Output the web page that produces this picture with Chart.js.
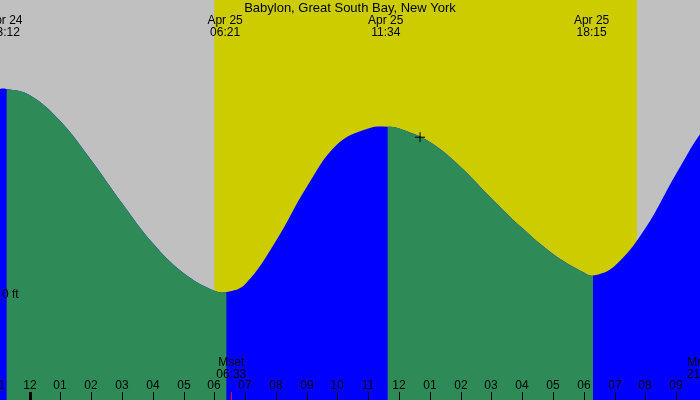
<!DOCTYPE html>
<html>
<head>
<meta charset="utf-8">
<script src="https://cdn.jsdelivr.net/npm/chart.js@4.4.1/dist/chart.umd.min.js"></script>
<style>
  html, body { margin: 0; padding: 0; background: #c0c0c0; }
  #wrap { width: 700px; height: 400px; }
</style>
</head>
<body>
<div id="wrap"><canvas id="tideChart"></canvas></div>
<script>
const title = 'Babylon, Great South Bay, New York';

// hours from midnight Apr 25, tide height in ft
const hours = [-2, -1, -0.75, 0, 1, 2, 3, 4, 5, 6, 6.4, 7, 8, 9, 10, 11, 11.62, 12, 13, 14, 15, 16, 17, 18, 18.3, 19, 20, 21, 22, 23];
const heights = [0.63, 0.685, 0.687, 0.667, 0.58, 0.45, 0.307, 0.173, 0.073, 0.014, 0.01, 0.036, 0.18, 0.36, 0.503, 0.555, 0.561, 0.555, 0.51, 0.427, 0.322, 0.223, 0.137, 0.075, 0.065, 0.097, 0.223, 0.405, 0.567, 0.66];

// high / low tides
const extremeHours = [-0.8, 6.35, 11.567, 18.25];
const extremeDates = ['Apr 24', 'Apr 25', 'Apr 25', 'Apr 25'];
const extremeTimes = ['23:12', '06:21', '11:34', '18:15'];

// sunrise, sunset
const sunHours = [6.0, 19.72];

// moon
const moonHours = [6.55, 21.83];
const moonLabels = ['Mset', 'Mrise'];
const moonTimes = ['06:33', '21:50'];

// now marker
const nowHour = [12.68];
const nowHeight = [0.526];

const tickHours = [-1, 0, 1, 2, 3, 4, 5, 6, 7, 8, 9, 10, 11, 12, 13, 14, 15, 16, 17, 18, 19, 20, 21];
const tickLabels = ['11', '12', '01', '02', '03', '04', '05', '06', '07', '08', '09', '10', '11',
                    '12', '01', '02', '03', '04', '05', '06', '07', '08', '09'];

const GREEN = '#2e8b57';
const BLUE = '#0000ff';
const DAY = '#cccc00';
const NIGHT = '#c0c0c0';
const FONT = '"Liberation Sans", Arial, sans-serif';

const tidePoints = hours.map((h, i) => ({ x: h, y: heights[i] }));

const skyPlugin = {
  id: 'sky',
  beforeDatasetsDraw(chart) {
    const { ctx, chartArea: a, scales: { x } } = chart;
    ctx.save();
    ctx.fillStyle = NIGHT;
    ctx.fillRect(a.left, a.top, a.right - a.left, a.bottom - a.top);
    const x0 = x.getPixelForValue(sunHours[0]);
    const x1 = x.getPixelForValue(sunHours[1]);
    ctx.fillStyle = DAY;
    ctx.fillRect(x0, a.top, x1 - x0, a.bottom - a.top);
    ctx.restore();
  }
};

const labelPlugin = {
  id: 'labels',
  afterDraw(chart) {
    const { ctx, chartArea: a, scales: { x, y } } = chart;
    ctx.save();
    ctx.fillStyle = '#000';
    ctx.textAlign = 'center';
    ctx.textBaseline = 'alphabetic';

    ctx.font = '13px ' + FONT;
    ctx.fillText(title, (a.left + a.right) / 2, 12);

    ctx.font = '12px ' + FONT;
    extremeHours.forEach((h, i) => {
      const px = x.getPixelForValue(h);
      ctx.fillText(extremeDates[i], px, 24);
      ctx.fillText(extremeTimes[i], px, 36);
    });

    // hour ticks along the bottom
    tickHours.forEach((h, i) => {
      const px = Math.round(x.getPixelForValue(h));
      ctx.fillText(tickLabels[i], px, 389);
      if (h % 24 === 0) ctx.fillRect(px - 1, a.bottom - 8, 3, 8);
      else ctx.fillRect(px, a.bottom - 8, 1, 8);
    });

    // moon rise / set
    moonHours.forEach((h, i) => {
      const px = x.getPixelForValue(h);
      ctx.fillStyle = '#000';
      ctx.fillText(moonLabels[i], px, 366);
      ctx.fillText(moonTimes[i], px, 378);
      ctx.fillStyle = '#ff0000';
      ctx.fillRect(Math.round(px), a.bottom - 8, 1, 8);
    });

    ctx.fillStyle = '#000';
    ctx.textAlign = 'left';
    ctx.textBaseline = 'middle';
    ctx.fillText('0 ft', 2, y.getPixelForValue(0));
    ctx.restore();
  }
};

new Chart(document.getElementById('tideChart'), {
  type: 'line',
  data: {
    datasets: [
      {
        type: 'scatter',
        data: nowHour.map((h, i) => ({ x: h, y: nowHeight[i] })),
        pointStyle: 'cross',
        radius: 5,
        borderColor: '#000',
        borderWidth: 1,
        order: 0,
      },
      {
        // falling tide painted green on top of the rising (blue) fill
        data: tidePoints,
        fill: 'start',
        borderWidth: 0,
        borderColor: 'rgba(0,0,0,0)',
        pointRadius: 0,
        tension: 0.4,
        segment: {
          backgroundColor: c => (c.p1.parsed.y > c.p0.parsed.y ? 'rgba(0,0,0,0)' : GREEN),
        },
        order: 1,
      },
      {
        data: tidePoints,
        fill: 'start',
        backgroundColor: BLUE,
        borderWidth: 0,
        borderColor: 'rgba(0,0,0,0)',
        pointRadius: 0,
        tension: 0.4,
        order: 2,
      },
    ],
  },
  options: {
    animation: false,
    responsive: true,
    maintainAspectRatio: false,
    layout: { padding: 0, autoPadding: false },
    scales: {
      x: { type: 'linear', display: false, min: -0.958, max: 21.77 },
      y: { display: false, min: -0.35, max: 0.9833 },
    },
    plugins: {
      legend: { display: false },
      tooltip: { enabled: false },
    },
  },
  plugins: [skyPlugin, labelPlugin],
});
</script>
</body>
</html>
